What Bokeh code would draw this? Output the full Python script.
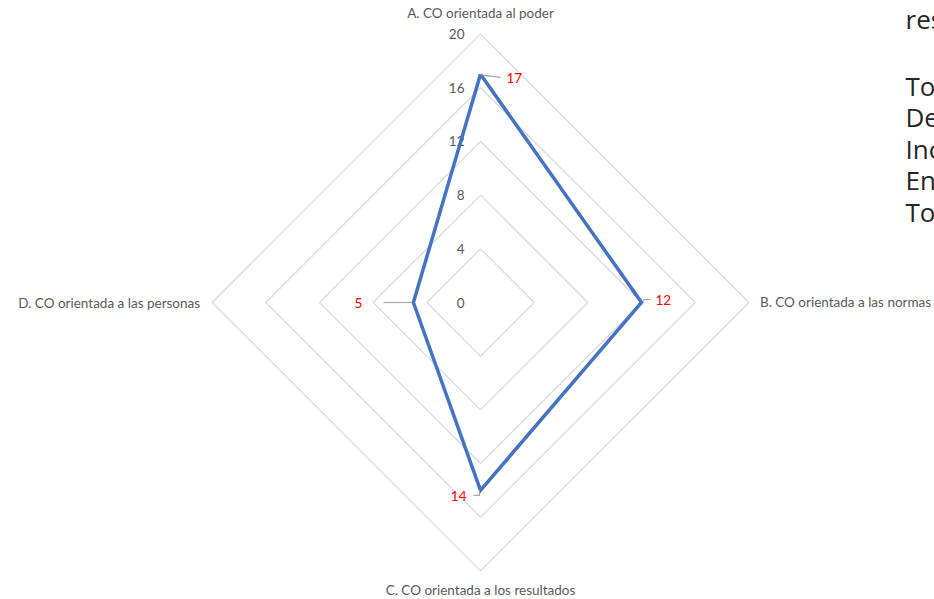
import numpy as np
from bokeh.plotting import figure
from bokeh.models import Range1d, Label
from bokeh.core.properties import value
from bokeh.embed import file_html
from bokeh.resources import INLINE

# ---- data ----
categories = ["A. CO orientada al poder", "B. CO orientada a las normas",
              "C. CO orientada a los resultados", "D. CO orientada a las personas"]
values = [17, 12, 14, 5]
ticks = [0, 4, 8, 12, 16, 20]
tick_labels = ["0", "4", "8", "12", "16", "20"]
angles_deg = [90, 0, -90, 180]
side_text = ["res", "Tot", "Des", "Inc", "Ent", "Tot"]

# ---- layout / style ----
W, H = 934, 599
S = 13.42            # px per unit
CX, CY = 480, 302    # centre in canvas px (from top-left)
FONT = "Lato"
FS = "13.5px"
GRAY_TXT = "#595959"

def px(n):
    return n / S

ang = np.radians(angles_deg)
cosA, sinA = np.round(np.cos(ang), 9), np.round(np.sin(ang), 9)

p = figure(width=W, height=H, output_backend="svg", toolbar_location=None,
           x_range=Range1d(-CX / S, (W - CX) / S),
           y_range=Range1d(-(H - CY) / S, CY / S),
           min_border=0)
p.axis.visible = False
p.grid.visible = False
p.outline_line_color = None
p.background_fill_color = "white"
p.border_fill_color = "white"

# gridline diamonds
rmax = max(ticks)
for r in ticks[1:]:
    xs = list(r * cosA) + [r * cosA[0]]
    ys = list(r * sinA) + [r * sinA[0]]
    p.line(xs, ys, line_color="#D9D9D9", line_width=1.2)

# tick labels
p.text(x=[-px(16)] * len(ticks), y=ticks, text=tick_labels,
       text_font=value(FONT), text_font_size=FS, text_color=GRAY_TXT,
       text_align="right", text_baseline="middle")

# category labels
cat_off = [(0, 21), (11, 1), (0, -19), (-12, 0)]
cat_align = ["center", "left", "center", "right"]
for i, c in enumerate(categories):
    x = rmax * cosA[i] + px(cat_off[i][0])
    y = rmax * sinA[i] + px(cat_off[i][1])
    p.text(x=[x], y=[y], text=[c], text_font=value(FONT), text_font_size=FS,
           text_color=GRAY_TXT, text_align=cat_align[i], text_baseline="middle")

# data polygon
vx = [v * c for v, c in zip(values, cosA)]
vy = [v * s for v, s in zip(values, sinA)]
p.line(vx + [vx[0]], vy + [vy[0]], line_color="#4472C4", line_width=3.5,
       line_join="miter")

# leader lines
leaders = [[(0, 0), (4, -1), (20, -3)],
           [(1, 2), (3, 3), (9, 3)],
           [(-1, 0), (-1, -5), (-7, -5)],
           [(-1, 0), (-30, 0)]]
lxs = [[vx[i] + px(a) for a, b in L] for i, L in enumerate(leaders)]
lys = [[vy[i] + px(b) for a, b in L] for i, L in enumerate(leaders)]
p.multi_line(lxs, lys, line_color="#A6A6A6", line_width=1.2)

# data labels
lab_off = [(26, -4), (14, 3), (-14, -6), (-51, 0)]
lab_align = ["left", "left", "right", "right"]
for i, v in enumerate(values):
    p.text(x=[vx[i] + px(lab_off[i][0])], y=[vy[i] + px(lab_off[i][1])], text=[str(v)],
           text_font=value(FONT), text_font_size=FS, text_color="#FF0000",
           text_align=lab_align[i], text_baseline="middle")

# cut-off text from neighbouring page content
base_y = [18, 85, 116, 148, 179, 211]
for t, by in zip(side_text, base_y):
    p.add_layout(Label(x=905, y=H - by, x_units="screen", y_units="screen", text=t,
                       text_font="Open Sans", text_font_size="26px",
                       text_color="#262626", text_baseline="alphabetic"))

open("out.html", "w").write(file_html(p, INLINE))
